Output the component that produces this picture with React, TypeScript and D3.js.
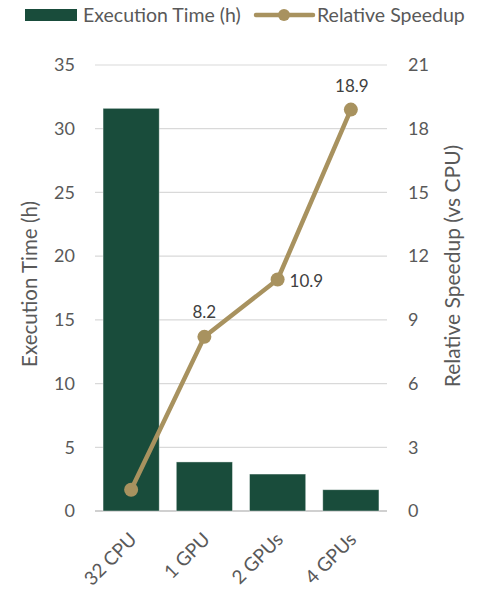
import React from "react";
import * as d3 from "d3";

const categories = ["32 CPU", "1 GPU", "2 GPUs", "4 GPUs"];
const execTime = [31.6, 3.85, 2.9, 1.67];
const speedup = [1.0, 8.2, 10.9, 18.9];
const speedupLabels = ["", "8.2", "10.9", "18.9"];
const leftTicks = [0, 5, 10, 15, 20, 25, 30, 35];
const rightTicks = [0, 3, 6, 9, 12, 15, 18, 21];

const W = 479;
const H = 593;
const M = { left: 95, right: 92, top: 65, bottom: 82 };
const BAR = "#194c3b";
const LINE = "#a8925f";
const TXT = "#595959";
const FONT = "Lato, 'Open Sans', sans-serif";

export default function App() {
  const x = d3
    .scaleBand<string>()
    .domain(categories)
    .range([M.left, W - M.right])
    .paddingInner(0.233)
    .paddingOuter(0.11);
  const yL = d3.scaleLinear().domain([0, 35]).range([H - M.bottom, M.top]);
  const yR = d3.scaleLinear().domain([0, 21]).range([H - M.bottom, M.top]);
  const cx = (c: string) => (x(c) as number) + x.bandwidth() / 2;
  const line = d3
    .line<number>()
    .x((_, i) => cx(categories[i]))
    .y((d) => yR(d));

  const labelPos = [
    null,
    { dx: 0, dy: -19, anchor: "middle" },
    { dx: 12, dy: 7, anchor: "start" },
    { dx: 1, dy: -18, anchor: "middle" },
  ];

  return (
    <svg width={W} height={H} style={{ display: "block", position: "absolute", left: 0, top: 0 }} fontFamily={FONT}>
      <rect width={W} height={H} fill="#fff" />
      {/* gridlines */}
      {leftTicks.map((t) => (
        <line key={t} x1={M.left} x2={W - M.right} y1={yL(t)} y2={yL(t)} stroke={t === 0 ? "#d0d0d0" : "#d9d9d9"} strokeWidth={t === 0 ? 2 : 1.2} />
      ))}
      {/* left ticks */}
      {leftTicks.map((t) => (
        <text key={t} x={75} y={yL(t)} dy="0.35em" textAnchor="end" fontSize={18} fill={TXT}>
          {t}
        </text>
      ))}
      {/* right ticks */}
      {rightTicks.map((t) => (
        <text key={t} x={408} y={yR(t)} dy="0.35em" textAnchor="start" fontSize={18} fill={TXT}>
          {t}
        </text>
      ))}
      {/* bars */}
      {categories.map((c, i) => (
        <rect
          key={c}
          x={x(c)}
          y={yL(execTime[i])}
          width={x.bandwidth()}
          height={yL(0) - yL(execTime[i])}
          fill={BAR}
          stroke="#ffffff"
          strokeOpacity={0.5}
          strokeWidth={0.8}
        />
      ))}
      {/* line */}
      <path d={line(speedup) || ""} fill="none" stroke={LINE} strokeWidth={4.5} strokeLinejoin="round" />
      {speedup.map((v, i) => (
        <circle key={i} cx={cx(categories[i])} cy={yR(v)} r={7} fill={LINE} />
      ))}
      {speedup.map((v, i) => {
        const p = labelPos[i];
        if (!p || !speedupLabels[i]) return null;
        return (
          <text key={i} x={cx(categories[i]) + p.dx} y={yR(v) + p.dy} textAnchor={p.anchor as any} fontSize={17} fill="#404040">
            {speedupLabels[i]}
          </text>
        );
      })}
      {/* x labels */}
      {categories.map((c) => (
        <text
          key={c}
          transform={`translate(${cx(c) + 2},${H - M.bottom + 25}) rotate(-45)`}
          textAnchor="end"
          dy="0.35em"
          fontSize={19}
          fill={TXT}
        >
          {c}
        </text>
      ))}
      {/* axis titles */}
      <text transform={`translate(30,284) rotate(-90)`} textAnchor="middle" dy="0.35em" fontSize={20.5} fill={TXT}>
        Execution Time (h)
      </text>
      <text transform={`translate(453,266) rotate(-90)`} textAnchor="middle" dy="0.35em" fontSize={21} fill={TXT}>
        Relative Speedup (vs CPU)
      </text>
      {/* legend */}
      <rect x={25} y={9} width={52} height={12} fill={BAR} />
      <text x={83} y={15} dy="0.35em" fontSize={19.5} fill={TXT}>
        Execution Time (h)
      </text>
      <line x1={256} x2={313} y1={15} y2={15} stroke={LINE} strokeWidth={4.5} strokeLinecap="round" />
      <circle cx={284} cy={15} r={6} fill={LINE} />
      <text x={317} y={15} dy="0.35em" fontSize={19.5} fill={TXT}>
        Relative Speedup
      </text>
    </svg>
  );
}
